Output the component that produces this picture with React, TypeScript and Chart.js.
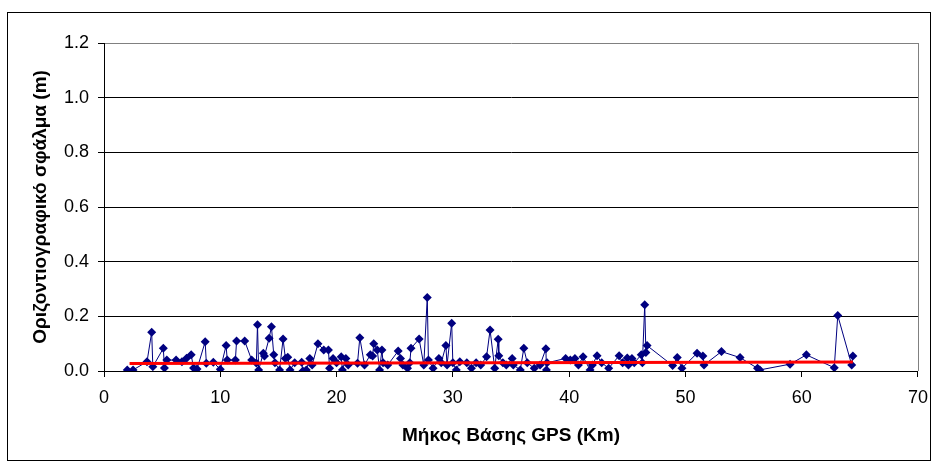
import { useEffect, useRef } from 'react';
import { Chart, registerables } from 'chart.js';
Chart.register(...registerables);

const xValues = [2.0, 2.5, 3.7, 4.1, 4.2, 5.1, 5.2, 5.4, 6.2, 6.7, 7.1, 7.5, 7.7, 8.0, 8.7, 8.8, 9.4, 10.0, 10.5, 10.6, 11.3, 11.4, 12.1, 12.7, 13.1, 13.2, 13.3, 13.7, 13.8, 14.2, 14.4, 14.6, 14.7, 15.1, 15.4, 15.6, 15.8, 16.0, 16.4, 17.0, 17.1, 17.4, 17.7, 17.9, 18.4, 18.9, 19.3, 19.4, 19.7, 20.0, 20.4, 20.5, 20.8, 21.0, 21.8, 22.0, 22.4, 22.9, 23.1, 23.2, 23.5, 23.7, 23.9, 24.0, 24.4, 25.3, 25.5, 25.7, 26.1, 26.3, 26.4, 27.1, 27.5, 27.8, 27.9, 28.3, 28.8, 29.0, 29.4, 29.5, 29.9, 30.0, 30.3, 30.6, 31.2, 31.6, 32.0, 32.4, 32.9, 33.2, 33.6, 33.9, 33.95, 34.3, 34.6, 35.1, 35.2, 35.8, 36.1, 36.4, 37.0, 37.5, 38.0, 38.05, 38.1, 39.7, 40.1, 40.5, 40.8, 41.2, 41.8, 42.0, 42.4, 42.8, 43.4, 44.3, 44.6, 45.0, 45.1, 45.4, 45.6, 46.2, 46.3, 46.5, 46.6, 46.7, 48.9, 49.3, 49.7, 51.0, 51.5, 51.6, 53.1, 54.7, 56.2, 56.4, 59.0, 60.4, 62.8, 63.1, 64.3, 64.4];
const yValues = [0.004, 0.004, 0.034, 0.142, 0.016, 0.083, 0.011, 0.04, 0.04, 0.034, 0.047, 0.059, 0.011, 0.007, 0.107, 0.028, 0.032, 0.006, 0.093, 0.04, 0.04, 0.11, 0.11, 0.04, 0.029, 0.169, 0.004, 0.065, 0.055, 0.12, 0.162, 0.059, 0.03, 0.004, 0.117, 0.046, 0.05, 0.004, 0.03, 0.032, 0.0, 0.004, 0.046, 0.022, 0.1, 0.077, 0.077, 0.01, 0.046, 0.03, 0.052, 0.004, 0.046, 0.022, 0.028, 0.122, 0.022, 0.059, 0.055, 0.1, 0.077, 0.004, 0.077, 0.03, 0.022, 0.073, 0.046, 0.022, 0.01, 0.03, 0.083, 0.117, 0.022, 0.269, 0.04, 0.01, 0.046, 0.03, 0.093, 0.022, 0.175, 0.03, 0.004, 0.034, 0.03, 0.01, 0.03, 0.022, 0.052, 0.15, 0.01, 0.116, 0.056, 0.03, 0.022, 0.046, 0.022, 0.004, 0.083, 0.03, 0.01, 0.022, 0.081, 0.004, 0.03, 0.046, 0.04, 0.046, 0.022, 0.052, 0.004, 0.022, 0.056, 0.03, 0.01, 0.056, 0.03, 0.048, 0.022, 0.046, 0.03, 0.059, 0.03, 0.242, 0.068, 0.093, 0.02, 0.049, 0.01, 0.065, 0.055, 0.022, 0.071, 0.049, 0.01, 0.004, 0.025, 0.059, 0.012, 0.203, 0.022, 0.055];
const trendX = [2.2, 64.4];
const trendY = [0.027, 0.033];
const yTickLabels = ['0.0', '0.2', '0.4', '0.6', '0.8', '1.0', '1.2'];
const xTitle = 'Μήκος Βάσης GPS (Km)';
const yTitle = 'Οριζοντιογραφικό σφάλμα (m)';

const FONT = '"Liberation Sans", Arial, sans-serif';

export default function App() {
  const ref = useRef<HTMLCanvasElement>(null);
  useEffect(() => {
    document.body.style.margin = '0';
    const canvas = ref.current;
    if (!canvas) return;
    const framePlugin = {
      id: 'frame',
      beforeDraw(chart: any) {
        const ctx = chart.ctx;
        ctx.save();
        ctx.fillStyle = '#ffffff';
        ctx.fillRect(0, 0, chart.width, chart.height);
        ctx.strokeStyle = '#000000';
        ctx.lineWidth = 1;
        ctx.strokeRect(7.5, 12.5, 923, 448);
        ctx.restore();
      },
      beforeDatasetsDraw(chart: any) {
        const ctx = chart.ctx;
        const a = chart.chartArea;
        ctx.save();
        ctx.strokeStyle = '#808080';
        ctx.lineWidth = 1;
        ctx.beginPath();
        ctx.moveTo(Math.round(a.right) + 0.5, a.top);
        ctx.lineTo(Math.round(a.right) + 0.5, a.bottom);
        ctx.stroke();
        ctx.restore();
      },
    };
    const points = xValues.map((x, i) => ({ x, y: yValues[i] }));
    const trend = trendX.map((x, i) => ({ x, y: trendY[i] }));
    const chart = new Chart(canvas, {
      type: 'scatter',
      data: {
        datasets: [
          {
            data: trend,
            showLine: true,
            borderColor: '#ff0000',
            borderWidth: 3,
            pointRadius: 0,
            pointHoverRadius: 0,
          },
          {
            data: points,
            showLine: true,
            borderColor: '#000080',
            borderWidth: 1,
            pointStyle: 'rectRot',
            pointRadius: 4.5,
            pointBackgroundColor: '#000080',
            pointBorderColor: '#000080',
            pointBorderWidth: 0,
          },
        ],
      },
      options: {
        responsive: false,
        animation: false,
        events: [],
        layout: { padding: { left: 0, top: 43, right: 15, bottom: 0 } },
        plugins: { legend: { display: false }, tooltip: { enabled: false } },
        scales: {
          x: {
            type: 'linear',
            min: 0,
            max: 70,
            afterFit: (s: any) => { s.height = 92; },
            ticks: { stepSize: 10, color: '#000', font: { family: FONT, size: 18 }, padding: 10, maxRotation: 0 },
            grid: { drawOnChartArea: false, color: '#000', tickLength: 6 },
            border: { color: '#000', width: 1 },
            title: { display: true, text: xTitle, color: '#000', font: { family: FONT, size: 19, weight: 'bold' }, padding: { top: 0, bottom: 16 } },
          },
          y: {
            min: 0,
            max: 1.2,
            afterFit: (s: any) => { s.width = 104; },
            ticks: {
              stepSize: 0.2,
              color: '#000',
              font: { family: FONT, size: 18 },
              padding: 9,
              callback: (_v: any, i: number) => yTickLabels[i],
            },
            grid: {
              color: (c: any) => (c.tick && Math.abs(c.tick.value - 1.2) < 1e-6 ? '#808080' : '#000'),
              tickColor: '#000',
              tickLength: 6,
            },
            border: { color: '#000', width: 1 },
            title: { display: true, text: yTitle, color: '#000', font: { family: FONT, size: 19, weight: 'bold' }, padding: { top: 29, bottom: 0 } },
          },
        },
      },
      plugins: [framePlugin],
    });
    return () => chart.destroy();
  }, []);
  return (
    <div style={{ width: 938, height: 463 }}>
      <canvas ref={ref} width={938} height={463} style={{ display: 'block' }} />
    </div>
  );
}
